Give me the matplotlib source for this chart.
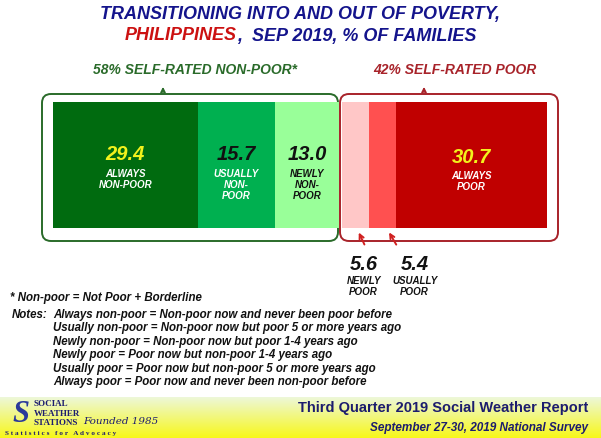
import numpy as np
import matplotlib
matplotlib.use("Agg")
import matplotlib.pyplot as plt
from matplotlib.patches import FancyBboxPatch

plt.rcParams['font.family'] = ['Liberation Sans', 'DejaVu Sans']

# ---- data
nonpoor_labels = ['ALWAYS\nNON-POOR', 'USUALLY\nNON-\nPOOR', 'NEWLY\nNON-\nPOOR']
nonpoor_values = [29.4, 15.7, 13.0]
nonpoor_colors = ['#006b0f', '#00b050', '#99ff99']
nonpoor_numcol = ['#f2f21c', '#111111', '#111111']
nonpoor_labcol = ['white', 'white', '#111111']

poor_labels = ['NEWLY\nPOOR', 'USUALLY\nPOOR', 'ALWAYS\nPOOR']
poor_values = [5.6, 5.4, 30.7]
poor_colors = ['#ffc7c7', '#ff5050', '#c00000']

nonpoor_total = 58
poor_total = 42

notes = [
    'Always non-poor = Non-poor now and never been poor before',
    'Usually non-poor = Non-poor now but poor 5 or more years ago',
    'Newly non-poor = Non-poor now but poor 1-4 years ago',
    'Newly poor = Poor now but non-poor 1-4 years ago',
    'Usually poor = Poor now but non-poor 5 or more years ago',
    'Always poor = Poor now and never been non-poor before',
]

W, H = 601, 438
fig = plt.figure(figsize=(W / 100, H / 100), dpi=100)
fig.patch.set_facecolor('white')

# overlay in pixel coords
bg = fig.add_axes([0, 0, 1, 1], zorder=0)
bg.set_xlim(0, W)
bg.set_ylim(H, 0)
bg.axis('off')

navy = '#14148c'
green_dk = '#2a6b2a'
red_dk = '#a8232a'

# title
bg.text(300, 15, 'TRANSITIONING INTO AND OUT OF POVERTY,', ha='center', va='center',
        fontsize=13, fontweight='bold', fontstyle='italic', color=navy)
t1 = bg.text(125, 36, 'PHILIPPINES', ha='left', va='center',
             fontsize=13, fontweight='bold', fontstyle='italic', color='#cc1111')
bg.annotate(',  SEP 2019, % OF FAMILIES', xy=(1, 0.5), xycoords=t1, va='center', ha='left',
            fontsize=13, fontweight='bold', fontstyle='italic', color=navy)

# group headers
bg.text(195, 70, '%d%% SELF-RATED NON-POOR*' % nonpoor_total, ha='center', va='center',
        fontsize=10, fontweight='bold', fontstyle='italic', color=green_dk)
bg.text(455, 70, '%d%% SELF-RATED POOR' % poor_total, ha='center', va='center',
        fontsize=10, fontweight='bold', fontstyle='italic', color=red_dk)
bg.annotate('', xy=(163, 84), xytext=(163, 95),
            arrowprops=dict(arrowstyle='->', color=green_dk, lw=1.3, mutation_scale=7))
bg.annotate('', xy=(424, 84), xytext=(424, 95),
            arrowprops=dict(arrowstyle='->', color=red_dk, lw=1.3, mutation_scale=7))

# bracket boxes
bg.add_patch(FancyBboxPatch((42, 94), 296, 147, boxstyle='round,pad=0,rounding_size=9',
                            fc='none', ec=green_dk, lw=1.4))
bg.add_patch(FancyBboxPatch((340, 94), 218, 147, boxstyle='round,pad=0,rounding_size=9',
                            fc='none', ec=red_dk, lw=1.4))

# ---- bar
gap = 0.6
left_px, right_px, top_px, bot_px = 53, 547, 102, 228
ax = fig.add_axes([left_px / W, 1 - bot_px / H, (right_px - left_px) / W, (bot_px - top_px) / H],
                  zorder=2)
ax.set_facecolor('none')
ax.axis('off')

starts_np = np.concatenate([[0], np.cumsum(nonpoor_values)[:-1]])
ax.barh(0, nonpoor_values, left=starts_np, height=1, color=nonpoor_colors, linewidth=0)
p0 = sum(nonpoor_values) + gap
starts_p = p0 + np.concatenate([[0], np.cumsum(poor_values)[:-1]])
ax.barh(0, poor_values, left=starts_p, height=1, color=poor_colors, linewidth=0)
ax.set_xlim(0, sum(nonpoor_values) + gap + sum(poor_values))
ax.set_ylim(-0.5, 0.5)

for s, v, lab, nc, lc in zip(starts_np, nonpoor_values, nonpoor_labels, nonpoor_numcol, nonpoor_labcol):
    cx = s + v / 2
    ax.text(cx, 0.08, '%.1f' % v, ha='center', va='center', fontsize=14.5,
            fontweight='bold', fontstyle='italic', color=nc)
    ax.text(cx, -0.03, lab, ha='center', va='top', fontsize=7, linespacing=1.15,
            fontweight='bold', fontstyle='italic', color=lc)

# always poor inside the bar
cx = starts_p[2] + poor_values[2] / 2
ax.text(cx, 0.06, '%.1f' % poor_values[2], ha='center', va='center', fontsize=14.5,
        fontweight='bold', fontstyle='italic', color='#f2f21c')
ax.text(cx, -0.05, poor_labels[2], ha='center', va='top', fontsize=7, linespacing=1.15,
        fontweight='bold', fontstyle='italic', color='white')

# small poor segments: labels below with arrows
text_dx = [8, 32]   # pixel offsets of labels from segment centre
tip_dx = [2, 5]
px_per_unit = (right_px - left_px) / (sum(nonpoor_values) + gap + sum(poor_values))
for i in range(2):
    cx = starts_p[i] + poor_values[i] / 2
    tip = (cx + tip_dx[i] / px_per_unit, -0.5 - 2 / 126)
    ax.annotate('', xy=tip, xytext=(8 + 2 * i, -17), textcoords='offset pixels',
                arrowprops=dict(arrowstyle='->', color='#d02020', lw=1.4, mutation_scale=8),
                annotation_clip=False)
    tx = cx + text_dx[i] / px_per_unit
    ax.text(tx, -0.5 - 36 / 126, '%.1f' % poor_values[i], ha='center', va='center',
            fontsize=14.5, fontweight='bold', fontstyle='italic', color='#111111', clip_on=False)
    ax.text(tx, -0.5 - 48 / 126, poor_labels[i], ha='center', va='top', fontsize=7,
            linespacing=1.15, fontweight='bold', fontstyle='italic', color='#111111', clip_on=False)

# ---- notes
nfs = 8.3
bg.text(10, 298, '* Non-poor = Not Poor + Borderline', ha='left', va='center',
        fontsize=nfs, fontweight='bold', fontstyle='italic', color='#111111')
bg.text(12, 315, 'Notes:', ha='left', va='center',
        fontsize=nfs, fontweight='bold', fontstyle='italic', color='#111111')
for k, line in enumerate(notes):
    bg.text(53, 315 + k * 13.4, line, ha='left', va='center',
            fontsize=nfs, fontweight='bold', fontstyle='italic', color='#111111')

# ---- footer band
grad = np.linspace(0, 1, 64)[:, None]
c_top = np.array([0.93, 0.97, 0.85])
c_bot = np.array([0.97, 0.97, 0.10])
img = c_top[None, None, :] * (1 - grad[:, :, None]) + c_bot[None, None, :] * grad[:, :, None]
bg.imshow(img, extent=(0, W, 438, 397), aspect='auto', zorder=0)
bg.set_xlim(0, W)
bg.set_ylim(H, 0)

bg.text(588, 408, 'Third Quarter 2019 Social Weather Report', ha='right', va='center',
        fontsize=10.5, fontweight='bold', color='#1c1c6e')
bg.text(588, 428, 'September 27-30, 2019 National Survey', ha='right', va='center',
        fontsize=8.5, fontstyle='italic', fontweight='bold', color='#1c1c6e')

# logo
bg.text(12, 415, 'S', ha='left', va='center', fontsize=22, fontweight='bold',
        fontstyle='italic', color='#2b3a9a', family='Liberation Serif')
for k, w in enumerate(['SOCIAL', 'WEATHER', 'STATIONS']):
    bg.text(34, 404 + k * 9.5, w, ha='left', va='center', fontsize=6.5,
            fontweight='bold', color='#1c1c6e', family='Liberation Serif')
bg.text(83, 422, 'Founded 1985', ha='left', va='center', fontsize=7.5,
        fontstyle='italic', color='#1c1c6e', family='DejaVu Serif')
bg.text(5, 434, 'S t a t i s t i c s   f o r   A d v o c a c y', ha='left', va='center',
        fontsize=5.2, fontweight='bold', color='#1c1c6e', family='Liberation Serif')

fig.savefig('out.png', dpi=100)
